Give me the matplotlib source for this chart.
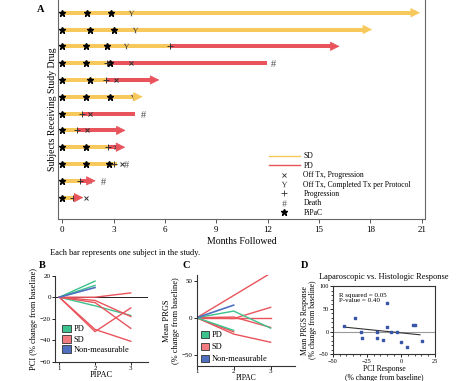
import matplotlib
matplotlib.use("Agg")
import matplotlib.pyplot as plt
from matplotlib.lines import Line2D
from matplotlib.patches import Patch

plt.rcParams['font.family'] = 'serif'
plt.rcParams['font.serif'] = ['Liberation Serif', 'DejaVu Serif']
plt.rcParams['mathtext.fontset'] = 'custom'
plt.rcParams['mathtext.rm'] = 'Liberation Serif'
plt.rcParams['mathtext.it'] = 'Liberation Serif'

W, H = 474, 381

# ---- panel A: swimmer plot (rows top to bottom) ----
sd_end = [20.9, 18.1, 6.3, 2.7, 2.6, 4.7, 1.2, 0.9, 2.7, 3.2, 1.05, 0.65]
pd_end = [None, None, 16.2, 11.95, 5.67, None, 4.27, 3.7, 3.68, None, 1.95, 1.23]
ongoing = [True, True, True, False, True, True, False, True, True, False, True, True]
pipac = [[0, 1.44, 2.85], [0, 1.62, 3.0], [0, 1.39, 2.6], [0, 1.39, 2.81], [0, 1.62],
         [0, 1.39, 2.79], [0], [0], [0, 1.37], [0, 1.37, 2.75], [0], [0]]
progression = [None, None, 6.3, 2.6, 2.57, None, 1.15, 0.88, 2.67, 3.02, 1.03, 0.63]
off_progression = [None, None, None, 4.0, 3.16, None, 1.64, 1.46, 3.16, 3.49, 1.54, 1.4]
off_completed = [4.0, 4.27, 3.72, None, None, 4.15, None, None, None, None, None, None]
death = [None, None, None, 12.3, None, None, 4.7, None, None, 3.7, 2.36, None]
month_ticks = [0, 3, 6, 9, 12, 15, 18, 21]

# ---- panel B: PCI % change ----
pci_pd = [[0, 15], [0, 11], [0, -8, -17]]
pci_sd = [[0, 0, 4], [0, -3, -18], [0, -5, -29], [0, -30, -41], [0, -32, -10]]
pci_nm = [[0, 9]]

# ---- panel C: mean PRGS % change ----
prgs_pd = [[0, 9, -14], [0, -17]]
prgs_sd = [[0, 30, 60], [0, 0, 0], [0, 1, -13], [0, -1, 14], [0, -19], [0, -22, -33]]
prgs_nm = [[0, 17]]

# ---- panel D: scatter ----
pci_resp = [-41.5, -33.3, -28.9, -28.4, -17.3, -17.3, -13.1, -9.9, -10.4, -6.9,
            -3.0, 0.2, 4.4, 8.9, 10.6, 15.3]
prgs_resp = [13, 30, 0, -15, 0, -15, -19, 62, 9, 0, 0, -23, -33, 15.5, 15.5, -20]
fit_x = [-42, 14]
fit_y = [10, -7]

YELLOW = '#f7c95c'
RED = '#e9545c'
GREEN = '#3cc28c'
BLUE = '#4f6fc0'
PINK = '#f27b7f'
MARK = '#333333'


def rect(l, t, r, b):
    return [l / W, 1 - b / H, (r - l) / W, (b - t) / H]


def bar(a, x0, x1, y, color, head):
    if head:
        a.plot([x0, x1 - 0.3], [y, y], color=color, lw=2.9, solid_capstyle='butt')
        a.annotate('', xy=(x1, y), xytext=(x1 - 0.5, y),
                   arrowprops=dict(arrowstyle='-|>,head_length=0.6,head_width=0.3',
                                   color=color, lw=0.5, shrinkA=0, shrinkB=0,
                                   mutation_scale=10))
    else:
        a.plot([x0, x1], [y, y], color=color, lw=2.9, solid_capstyle='butt')


fig = plt.figure(figsize=(W / 100, H / 100), dpi=100)

# ================= A =================
ax = fig.add_axes(rect(58, 0, 425, 219))
n = len(sd_end)
for i in range(n):
    y = n - 1 - i
    if pd_end[i] is None:
        bar(ax, 0, sd_end[i], y, YELLOW, ongoing[i])
    else:
        bar(ax, 0, sd_end[i], y, YELLOW, False)
        bar(ax, sd_end[i], pd_end[i], y, RED, ongoing[i])
    ax.plot(pipac[i], [y] * len(pipac[i]), ls='none', marker='*', ms=4.5, color='black')
    if progression[i] is not None:
        ax.plot(progression[i], y, marker='+', ms=4, mew=0.7, color=MARK)
    if off_progression[i] is not None:
        ax.plot(off_progression[i], y, marker='x', ms=3, mew=0.7, color=MARK)
    if off_completed[i] is not None:
        ax.plot(off_completed[i], y, marker='$Y$', ms=4, mew=0, color=MARK)
    if death[i] is not None:
        ax.plot(death[i], y, marker=r'$\#$', ms=5, mew=0, color='#555555')

ax.set_xlim(-0.25, 21.19)
ax.set_ylim(-1.27, n - 1 + 12.7 / 16.82)
ax.set_xticks(month_ticks)
ax.set_yticks([])
ax.tick_params(axis='x', labelsize=6.5, length=3, width=0.7, color='#555555', pad=2)
for s in ['left', 'right', 'bottom']:
    ax.spines[s].set_color('#666666')
    ax.spines[s].set_linewidth(0.8)
ax.spines['top'].set_visible(False)
ax.set_xlabel('Months Followed', fontsize=7, labelpad=2)
ax.set_ylabel('Subjects Receiving Study Drug', fontsize=7, labelpad=1)

handles = [Line2D([], [], color=YELLOW, lw=1),
           Line2D([], [], color=RED, lw=1),
           Line2D([], [], ls='none', marker='x', ms=3, mew=0.6, color=MARK),
           Line2D([], [], ls='none', marker='$Y$', ms=4, mew=0, color=MARK),
           Line2D([], [], ls='none', marker='+', ms=4, mew=0.6, color=MARK),
           Line2D([], [], ls='none', marker=r'$\#$', ms=4.5, mew=0, color='#555555'),
           Line2D([], [], ls='none', marker='*', ms=4.5, color='black')]
labels = ['SD', 'PD', 'Off Tx, Progression', 'Off Tx, Completed Tx per Protocol',
          'Progression', 'Death', 'PiPaC']
ax.legend(handles, labels, loc='upper left', bbox_to_anchor=((269 - 58) / 367, (219 - 152.5) / 219),
          frameon=False, fontsize=5.5, handlelength=4.0, handletextpad=0.5,
          labelspacing=0.18, borderpad=0, borderaxespad=0)

fig.text(41 / W, 1 - 10 / H, 'A', fontsize=7.5, fontweight='bold', ha='center', va='center')
fig.text(50 / W, 1 - 253 / H, 'Each bar represents one subject in the study.',
         fontsize=6, ha='left', va='center')


def style_small(a):
    a.spines['top'].set_visible(False)
    a.spines['right'].set_visible(False)
    for s in ['left', 'bottom']:
        a.spines[s].set_linewidth(0.8)
        a.spines[s].set_color('#333333')
    a.tick_params(labelsize=5, length=2, width=0.6, pad=1)


def group_legend(a, x0, y0, spacing):
    hs = [Patch(facecolor=GREEN, edgecolor='#333333', lw=0.6),
          Patch(facecolor=PINK, edgecolor='#333333', lw=0.6),
          Patch(facecolor=BLUE, edgecolor='#333333', lw=0.6)]
    a.legend(hs, ['PD', 'SD', 'Non-measurable'], loc='lower left', bbox_to_anchor=(x0, y0),
             frameon=False, fontsize=6, handlelength=1.0, handleheight=1.0,
             handletextpad=0.35, labelspacing=spacing, borderpad=0, borderaxespad=0)


# ================= B =================
bx = fig.add_axes(rect(55, 275.7, 148.3, 361.7))
bx.axhline(0, color='#222222', lw=0.7)
for v in pci_pd:
    bx.plot(range(1, len(v) + 1), v, color=GREEN, lw=1)
for v in pci_sd:
    bx.plot(range(1, len(v) + 1), v, color=RED, lw=1)
for v in pci_nm:
    bx.plot(range(1, len(v) + 1), v, color=BLUE, lw=1.2)
bx.set_xlim(0.88, 3.49)
bx.set_ylim(-60, 20)
bx.set_xticks([1, 2, 3])
bx.set_yticks([-60, -40, -20, 0, 20])
style_small(bx)
bx.set_xlabel('PIPAC', fontsize=6, labelpad=0)
bx.set_ylabel('PCI (% change from baseline)', fontsize=6, labelpad=1)
group_legend(bx, 0.08, 0.09, 0.2)
fig.text(42 / W, 1 - 266 / H, 'B', fontsize=7.5, fontweight='bold', ha='center', va='center')

# ================= C =================
cx = fig.add_axes(rect(196.7, 274.7, 295, 366))
for v in prgs_sd:
    cx.plot(range(1, len(v) + 1), v, color=RED, lw=1)
for v in prgs_pd:
    cx.plot(range(1, len(v) + 1), v, color=GREEN, lw=1)
for v in prgs_nm:
    cx.plot(range(1, len(v) + 1), v, color=BLUE, lw=1.2)
cx.set_xlim(1, 3.66)
cx.set_ylim(-65, 58)
cx.set_xticks([1, 2, 3])
cx.set_yticks([-50, 0, 50])
style_small(cx)
cx.tick_params(axis='x', pad=0.5)
cx.set_xlabel('PIPAC', fontsize=5.5, labelpad=0)
cx.set_ylabel('Mean PRGS\n(% change from baseline)', fontsize=6, labelpad=1, linespacing=1.2)
group_legend(cx, 0.04, 0.03, 0.4)
fig.text(186 / W, 1 - 265 / H, 'C', fontsize=7.5, fontweight='bold', ha='center', va='center')

# ================= D =================
dx = fig.add_axes(rect(332.7, 286, 435, 354.4))
dx.axhline(0, color='#9a9a9a', lw=0.8)
dx.plot(fit_x, fit_y, color='#333333', lw=0.8)
dx.scatter(pci_resp, prgs_resp, s=3, marker='s', color='#3a56a8', zorder=3)
dx.set_xlim(-50, 25)
dx.set_ylim(-50, 100)
dx.set_xticks([-50, -25, 0, 25])
dx.set_xticks(range(-50, 26, 5), minor=True)
dx.set_yticks([-50, 0, 50, 100])
dx.set_yticks(range(-50, 101, 10), minor=True)
for s in dx.spines.values():
    s.set_linewidth(0.8)
    s.set_color('#333333')
dx.tick_params(labelsize=4.5, length=2, width=0.6, pad=1)
dx.tick_params(which='minor', length=1.2, width=0.5)
dx.text(0.06, 0.9, 'R squared = 0.05\nP-value = 0.40', transform=dx.transAxes,
        fontsize=5, va='top', ha='left', linespacing=1.1)
dx.set_title('Laparoscopic vs. Histologic Response', fontsize=6, pad=5)
dx.set_xlabel('PCI Response\n(% change from baseline)', fontsize=5.5, labelpad=1, linespacing=1.1)
dx.set_ylabel('Mean PRGS Response\n(% change from baseline)', fontsize=5.5, labelpad=1, linespacing=1.1)
fig.text(305 / W, 1 - 265 / H, 'D', fontsize=7.5, fontweight='bold', ha='center', va='center')

fig.savefig('out.png', dpi=100)
